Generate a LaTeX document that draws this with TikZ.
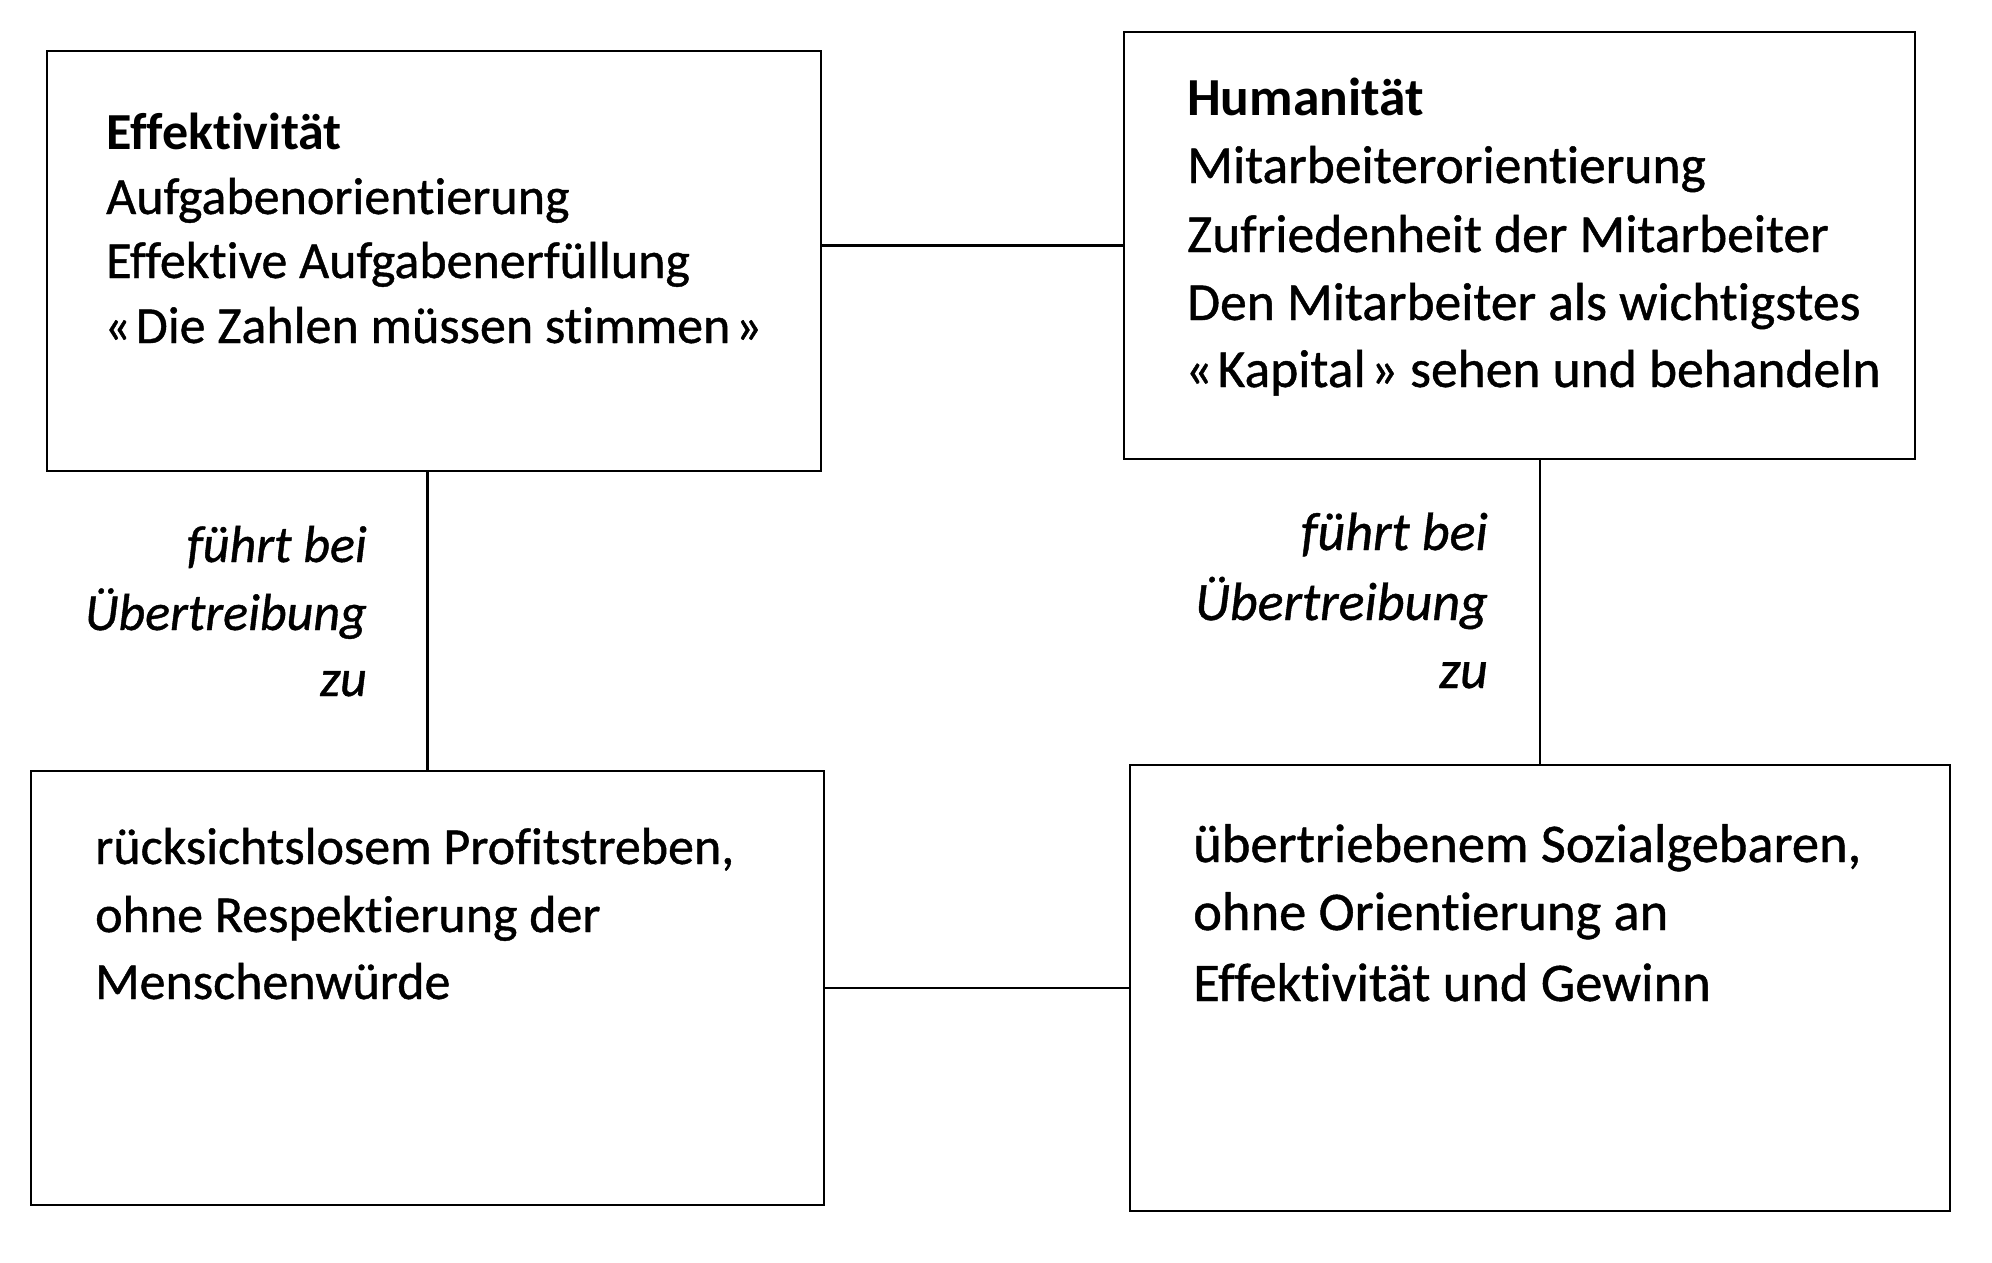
\documentclass[tikz,border=0pt]{standalone}
\usepackage{fontspec}
\setmainfont{Carlito}[Ligatures=NoCommon, UprightFeatures={FakeBold=0.8}, ItalicFeatures={FakeBold=0.8}]
\begin{document}
\begin{tikzpicture}[x=1pt,y=-1pt,
  box/.style={draw, line width=2.6pt, rectangle, inner sep=0pt},
  conn/.style={line width=2.4pt},
  txt/.style={anchor=base west, inner sep=0pt, font=\fontsize{52}{67}\selectfont},
  txtb/.style={txt, font=\fontsize{53.5}{67}\selectfont},
  txtd/.style={txt, font=\fontsize{54.5}{67}\selectfont},
  lbl/.style={anchor=base east, inner sep=0pt, font=\fontsize{52}{67}\selectfont\itshape},
  lblr/.style={lbl, font=\fontsize{54}{67}\selectfont\itshape}]
\useasboundingbox[fill=white] (0,0) rectangle (1992,1263);
% boxes
\node[box, minimum width=774pt, minimum height=420pt] (A) at (434,261) {};
\node[box, minimum width=791pt, minimum height=427pt] (B) at (1519.5,245.5) {};
\node[box, minimum width=793pt, minimum height=434pt] (C) at (427.5,988) {};
\node[box, minimum width=820pt, minimum height=446pt] (D) at (1540,988) {};
% connectors
\draw[conn] (A.east |- B.west) -- (B.west);
\draw[conn] (A.south -| C.north) -- (C.north);
\draw[conn] (B.south -| D.north) -- (D.north);
\draw[conn] (C.east) -- (D.west);
% text A
\node[txt, font=\fontsize{52}{67}\selectfont\bfseries] (a1) at (106,149) {Effektivität};
\node[txt] (a2) at (106,214) {Aufgabenorientierung};
\node[txt] (a3) at (106,278) {Effektive Aufgabenerfüllung};
\node[txt] (a4) at (104,343) {«\kern5pt Die Zahlen müssen stimmen\kern5pt»};
% text B
\node[txtb, font=\fontsize{53.5}{67}\selectfont\bfseries] (b1) at (1187,115) {Humanität};
\node[txtb] (b2) at (1187,183) {Mitarbeiterorientierung};
\node[txtb] (b3) at (1187,252) {Zufriedenheit der Mitarbeiter};
\node[txtb] (b4) at (1187,320) {Den Mitarbeiter als wichtigstes};
\node[txtb] (b5) at (1185,387) {«\kern5pt Kapital\kern5pt» sehen und behandeln};
% text C
\node[txt] (c1) at (95,864) {rücksichtslosem Profitstreben,};
\node[txt] (c2) at (95,932) {ohne Respektierung der};
\node[txt] (c3) at (95,999) {Menschenwürde};
% text D
\node[txtd] (d1) at (1193,862) {übertriebenem Sozialgebaren,};
\node[txtd] (d2) at (1193,930) {ohne Orientierung an};
\node[txtd] (d3) at (1193,1001) {Effektivität und Gewinn};
% labels left
\node[lbl] (l1) at (367,562) {führt bei};
\node[lbl] (l2) at (367,630) {Übertreibung};
\node[lbl] (l3) at (367,696) {zu};
% labels right
\node[lblr] (r1) at (1488,550) {führt bei};
\node[lblr] (r2) at (1488,620) {Übertreibung};
\node[lblr] (r3) at (1488,688) {zu};
\end{tikzpicture}
\end{document}
